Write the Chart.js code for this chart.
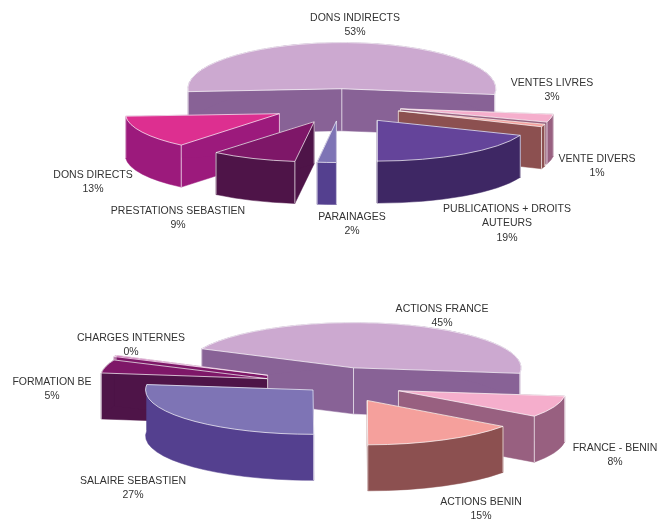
<!DOCTYPE html>
<html><head><meta charset="utf-8">
<script src="https://cdn.jsdelivr.net/npm/chart.js@4"></script>
<style>
html,body{margin:0;padding:0;background:#fff;width:657px;height:519px;overflow:hidden}
canvas{position:absolute;left:0;top:0}
</style></head><body>
<canvas id="recettes" width="657" height="519"></canvas>
<canvas id="depenses" width="657" height="519"></canvas>
<script>
// ---- data ----
const incomeCategories = ['DONS INDIRECTS','VENTES LIVRES','VENTE DIVERS','PUBLICATIONS + DROITS|AUTEURS','PARAINAGES','PRESTATIONS SEBASTIEN','DONS DIRECTS'];
const incomeValues = [53,3,1,19,2,9,13];
const expenseCategories = ['ACTIONS FRANCE','FRANCE - BENIN','ACTIONS BENIN','SALAIRE SEBASTIEN','FORMATION BE','CHARGES INTERNES'];
const expenseValues = [45,8,15,27,4.6,0.4];

// ---- styles ----
const incomeTop  = ['#CCA9D0','#F5AECC','#F5A09C','#64449A','#7E74B5','#7E1768','#DD2F90'];
const incomeSide = ['#886296','#986080','#8C5050','#3E2764','#54408F','#4E1448','#9C1A7C'];
const incomeExplode = [58,62,62,66,57,65,68];
const incomeTilt = [0.30,0.28,0.28,0.265,0.27,0.26,0.265];
const expenseTop  = ['#CCA9D0','#F5AECC','#F5A09C','#7E74B5','#7E1768','#B0208C'];
const expenseSide = ['#886296','#986080','#8C5050','#54408F','#4E1448','#7E1768'];
const expenseExplode = [60,66,66,32,72,76];
const expenseTilt = [0.27,0.26,0.265,0.265,0.28,0.28];
const incomeLabelPos = [[355,18],[552,83],[597,159],[507,209],[352,217],[178,211],[93,175]];
const expenseLabelPos = [[442,309],[615,448],[481,502],[133,481],[52,382],[131,338]];
const LINE = 14.5;

const pie3d = {
  id:'pie3d',
  beforeDatasetDraw(chart){
    const o = chart.options.plugins.pie3d, ctx = chart.ctx;
    const arcs = chart.getDatasetMeta(0).data.map((a,i)=>({a,i,mid:(a.startAngle+a.endAngle)/2}));
    arcs.sort((p,q)=>Math.sin(p.mid)-Math.sin(q.mid));
    const off = chart.data.datasets[0].offset;
    arcs.forEach(({a,i,mid})=>{
      const d = off[i], k = o.tilt[i], D = o.depth, R = a.outerRadius;
      const tx = a.x + Math.cos(mid)*d, ty = a.y + Math.sin(mid)*d*o.squash;
      const rim = t => [tx+Math.cos(t)*R, ty+Math.sin(t)*R*k];
      const [sx,sy] = rim(a.startAngle), [ex,ey] = rim(a.endAngle);
      ctx.save();
      ctx.fillStyle = ctx.strokeStyle = o.sideColors[i];
      ctx.lineWidth = 0.5;
      const face = p => { p.closePath(); ctx.fill(p); ctx.stroke(p); };
      let p = new Path2D();
      p.moveTo(tx,ty);p.lineTo(sx,sy);p.lineTo(sx,sy+D);p.lineTo(tx,ty+D);face(p);
      p = new Path2D();
      p.moveTo(tx,ty);p.lineTo(ex,ey);p.lineTo(ex,ey+D);p.lineTo(tx,ty+D);face(p);
      p = new Path2D();
      p.ellipse(tx,ty,R,R*k,0,a.startAngle,a.endAngle);
      p.ellipse(tx,ty+D,R,R*k,0,a.endAngle,a.startAngle,true);
      face(p);
      const top = new Path2D();
      top.moveTo(tx,ty);
      top.ellipse(tx,ty,R,R*k,0,a.startAngle,a.endAngle);
      top.closePath();
      ctx.fillStyle = chart.data.datasets[0].backgroundColor[i];
      ctx.fill(top);
      ctx.strokeStyle = 'rgba(255,255,255,0.7)';
      ctx.lineWidth = 1;
      [[tx,ty],[sx,sy],[ex,ey]].forEach(([x,y])=>{
        if(!ctx.isPointInPath(top,x,y+2)){
          ctx.beginPath();ctx.moveTo(x,y);ctx.lineTo(x,y+D);ctx.stroke();
        }
      });
      ctx.stroke(top);
      ctx.restore();
    });
    return false;
  },
  afterDraw(chart){
    const o = chart.options.plugins.pie3d, ctx = chart.ctx;
    const vals = chart.data.datasets[0].data, total = vals.reduce((s,v)=>s+v,0);
    ctx.save();
    ctx.font = '10.5px "Liberation Sans"';
    ctx.fillStyle = '#333';
    ctx.textAlign = 'center';
    ctx.textBaseline = 'middle';
    chart.data.labels.forEach((lab,i)=>{
      const lines = lab.split('|').concat(Math.round(vals[i]/total*100)+'%');
      lines.forEach((t,j)=>ctx.fillText(t,o.labelPos[i][0],o.labelPos[i][1]+j*LINE));
    });
    ctx.restore();
  }
};

function makePie(id,labels,data,top,side,explode,tilt,labelPos,opt){
  return new Chart(document.getElementById(id),{
    type:'pie',
    data:{labels,datasets:[{data,backgroundColor:top,offset:explode,borderWidth:0}]},
    plugins:[pie3d],
    options:{
      responsive:false,animation:false,devicePixelRatio:1,
      rotation:opt.rotation,radius:opt.radius,
      layout:{padding:opt.padding},
      events:[],
      plugins:{legend:{display:false},tooltip:{enabled:false},
        pie3d:{squash:0.28,tilt,depth:opt.depth,sideColors:side,labelPos}}
    }
  });
}
makePie('recettes',incomeCategories,incomeValues,incomeTop,incomeSide,incomeExplode,incomeTilt,incomeLabelPos,
  {rotation:266.4,radius:154,depth:42,padding:{left:23,right:0,top:0,bottom:309}});
makePie('depenses',expenseCategories,expenseValues,expenseTop,expenseSide,expenseExplode,expenseTilt,expenseLabelPos,
  {rotation:295,radius:167.5,depth:46,padding:{left:17,right:0,top:249,bottom:0}});
</script>
</body></html>
